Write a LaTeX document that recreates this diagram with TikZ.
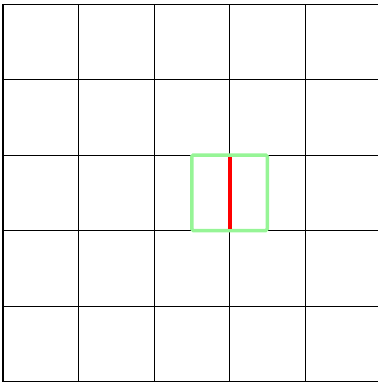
\documentclass[tikz,border=0pt]{standalone}
\begin{document}
\begin{tikzpicture}[x=1pt,y=-1pt,
  gridline/.style={black,line width=1pt},
  greenbox/.style={draw={rgb,255:red,150;green,245;blue,150},line width=3.5pt,rounded corners=1.5pt},
  redline/.style={red,line width=4pt}]
\useasboundingbox (0,0) rectangle (378,384);
\foreach \i in {0,...,5}{
  \draw[gridline] ({3+75.5*\i},4) -- ({3+75.5*\i},381.5);
  \draw[gridline] (3,{4+75.5*\i}) -- (380.5,{4+75.5*\i});
}
\draw[greenbox] (191.75,155) rectangle (267.25,230.5);
\coordinate (rt) at (229.5,157);
\coordinate (rb) at (229.5,228.5);
\draw[redline] (rt) -- (rb);
\end{tikzpicture}
\end{document}
